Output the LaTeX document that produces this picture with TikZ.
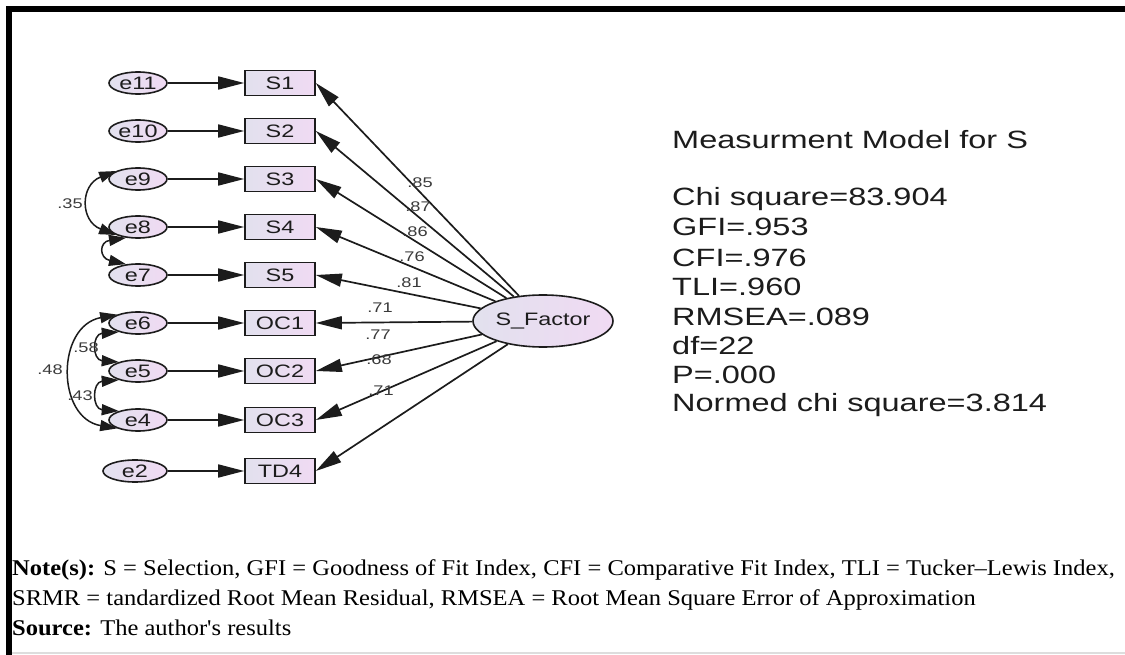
\documentclass[tikz,border=0pt]{standalone}
\usepackage{fontspec}
\usetikzlibrary{arrows.meta,shapes.geometric}
\newfontfamily\amos[FakeStretch=1.3]{Liberation Sans}
\newfontfamily\notefont[FakeStretch=1.09]{Liberation Serif}
\definecolor{shadeL}{HTML}{E2E1EE}
\definecolor{shadeR}{HTML}{F0DAF3}
\definecolor{ink}{HTML}{1C1C1C}
\definecolor{numgray}{HTML}{3A3A3A}
\definecolor{rule}{HTML}{DDDDDD}

\begin{document}
\begin{tikzpicture}[x=1pt,y=-1pt,
  err/.style={ellipse, draw=ink, line width=1.6pt, left color=shadeL, right color=shadeR,
    minimum width=58pt, minimum height=22pt, inner sep=0pt, text=ink,
    font=\amos\fontsize{18}{18}\selectfont},
  obs/.style={rectangle, draw=ink, line width=1.6pt, left color=shadeL, right color=shadeR,
    minimum width=70pt, minimum height=25pt, inner sep=0pt, text=ink,
    font=\amos\fontsize{18}{18}\selectfont},
  latent/.style={ellipse, draw=ink, line width=1.6pt, left color=shadeL, right color=shadeR,
    minimum width=140pt, minimum height=52pt, inner sep=0pt, text=ink,
    font=\amos\fontsize{18}{18}\selectfont},
  reg/.style={draw=ink, line width=1.7pt, -{Triangle[length=26pt,width=13pt]}},
  cov/.style={draw=ink, line width=1.5pt,
    {Triangle[length=17pt,width=11pt]}-{Triangle[length=17pt,width=11pt]}},
  coef/.style={text=numgray, inner sep=0pt, font=\amos\fontsize{14}{14}\selectfont},
  fit/.style={anchor=base west, inner sep=0pt, text=ink, font=\amos\fontsize{25}{25}\selectfont},
  note/.style={anchor=base west, inner sep=0pt, text=black, font=\notefont\fontsize{22.5}{22.5}\selectfont}]

\useasboundingbox (0,0) rectangle (1125,655);
\fill[white] (0,0) rectangle (1125,655);

% frame
\draw[line width=6pt, line join=miter] (1125,9) -- (9,9) -- (9,655);
\draw[rule, line width=1.5pt] (12,653) -- (1125,653);

% error terms
\node[err] (e11) at (138,83)  {e11};
\node[err] (e10) at (138,131) {e10};
\node[err] (e9)  at (138,179) {e9};
\node[err] (e8)  at (138,227) {e8};
\node[err] (e7)  at (138,275) {e7};
\node[err] (e6)  at (138,323) {e6};
\node[err] (e5)  at (138,371) {e5};
\node[err] (e4)  at (138,420) {e4};
\node[err, minimum width=64pt] (e2) at (135,471) {e2};

% observed indicators
\node[obs] (S1)  at (280,83)  {S1};
\node[obs] (S2)  at (280,131) {S2};
\node[obs] (S3)  at (280,179) {S3};
\node[obs] (S4)  at (280,227) {S4};
\node[obs] (S5)  at (280,275) {S5};
\node[obs] (OC1) at (280,323) {OC1};
\node[obs] (OC2) at (280,371) {OC2};
\node[obs] (OC3) at (280,420) {OC3};
\node[obs] (TD4) at (280,471) {TD4};

% latent factor
\node[latent] (F) at (543,321) {S\_Factor};

% error paths
\foreach \e/\o in {e11/S1,e10/S2,e9/S3,e8/S4,e7/S5,e6/OC1,e5/OC2,e4/OC3,e2/TD4}
  \draw[reg] (\e) -- (\o);

% factor loadings
\foreach \o in {S1,S2,S3,S4,S5,OC1,OC2,OC3,TD4}
  \draw[reg] (F) -- (\o.east);

\node[coef] (l1) at (420,183) {.85};
\node[coef] (l2) at (418,207) {.87};
\node[coef] (l3) at (415,232) {.86};
\node[coef] (l4) at (412,257) {.76};
\node[coef] (l5) at (409,283) {.81};
\node[coef] (l6) at (380,308) {.71};
\node[coef] (l7) at (378,335) {.77};
\node[coef] (l8) at (379,360) {.68};
\node[coef] (l9) at (381,391) {.71};

% error covariances
\draw[cov] (e9.160) .. controls (80,185) and (80,221) .. (e8.200);
\draw[cov] (e8.222) .. controls (99,242) and (99,258) .. (e7.138);
\draw[cov] (e6.158) .. controls (56,326) and (56,418) .. (e4.202);
\draw[cov] (e6.205) .. controls (92,334) and (92,360) .. (e5.155);
\draw[cov] (e5.205) .. controls (92,382) and (92,409) .. (e4.155);

\node[coef] (c1) at (70,204) {.35};
\node[coef] (c2) at (86,348) {.58};
\node[coef] (c3) at (50,370) {.48};
\node[coef] (c4) at (80,396) {.43};

% fit summary
\node[fit] (t0) at (672,149) {Measurment Model for S};
\foreach \i/\yy/\txt in {1/206/{Chi square=83.904}, 2/236/{GFI=.953}, 3/266/{CFI=.976},
    4/295/{TLI=.960}, 5/325/{RMSEA=.089}, 6/354/{df=22}, 7/383/{P=.000},
    8/411/{Normed chi square=3.814}}
  \node[fit] (t\i) at (672,\yy) {\txt};

% notes
\node[note] (n1) at (12,575) {\textbf{Note(s):} S = Selection, GFI = Goodness of Fit Index, CFI = Comparative Fit Index, TLI = Tucker–Lewis Index,};
\node[note] (n2) at (12,605) {SRMR = tandardized Root Mean Residual, RMSEA = Root Mean Square Error of Approximation};
\node[note] (n3) at (12,635) {\textbf{Source:} The author's results};
\end{tikzpicture}
\end{document}
